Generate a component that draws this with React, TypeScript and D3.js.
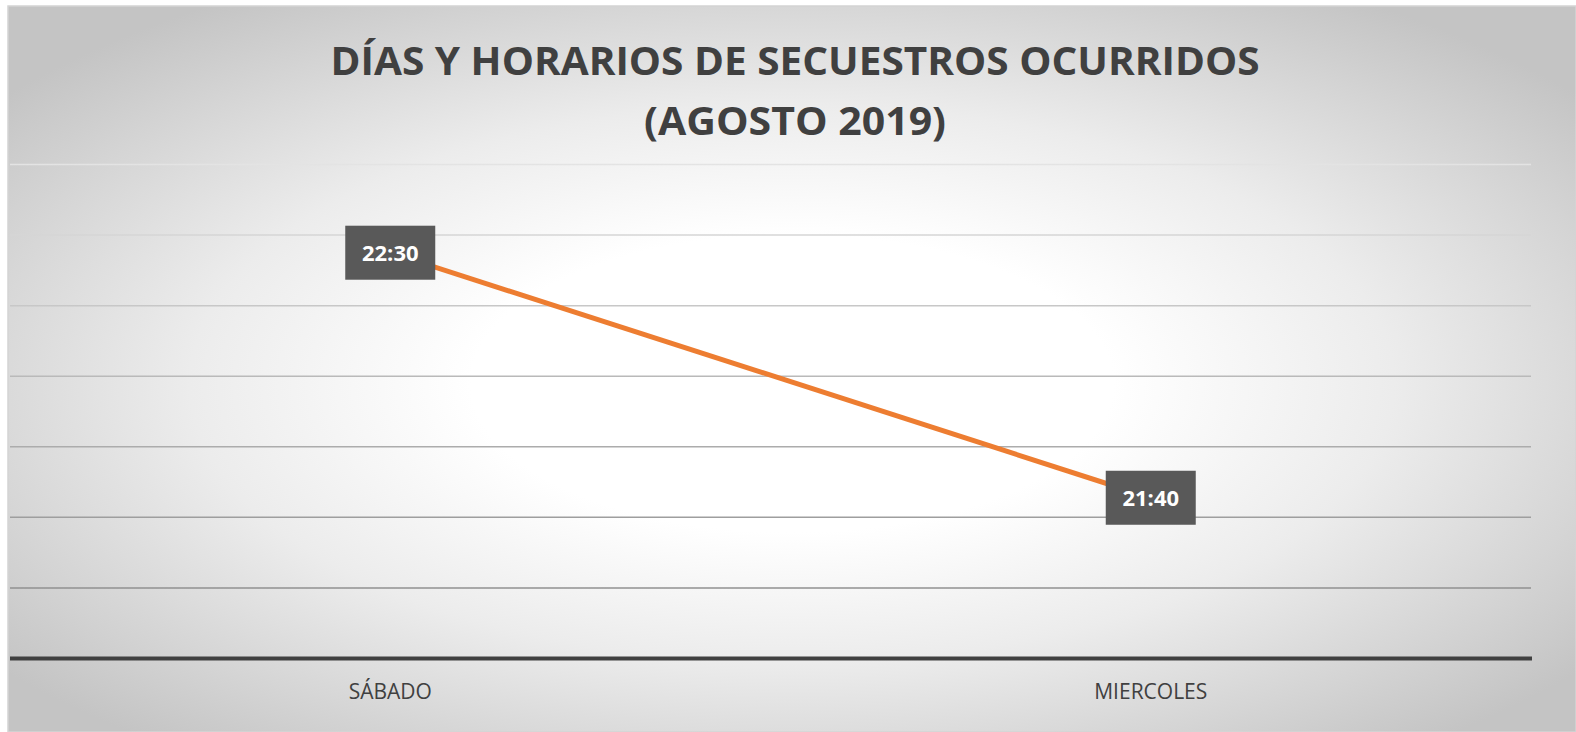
import React from "react";
import * as d3 from "d3";

const categories = ["SÁBADO", "MIERCOLES"];
const timeLabels = ["22:30", "21:40"];
// time as fraction of a day
const values = [22.5 / 24, (21 + 40 / 60) / 24];
const yTicks = [0.88, 0.89, 0.9, 0.91, 0.92, 0.93, 0.94, 0.95];
const titleLines = ["DÍAS Y HORARIOS DE SECUESTROS OCURRIDOS", "(AGOSTO 2019)"];

const W = 1576;
const H = 732;

export default function App() {
  const x = d3.scaleBand<string>().domain(categories).range([10, 1531]);
  const y = d3.scaleLinear().domain([0.88, 0.95]).range([658.5, 164.5]);
  const pts = categories.map((c, i) => [x(c)! + x.bandwidth() / 2, y(values[i])] as [number, number]);
  const line = d3.line();
  const font = "'Open Sans', sans-serif";
  return (
    <svg
      width={W}
      height={H}
      style={{ position: "absolute", left: 0, top: 0, display: "block" }}
    >
      <defs>
        <radialGradient id="bg" cx="0.5" cy="0.52" r="0.64" gradientUnits="objectBoundingBox">
          <stop offset="0" stopColor="#ffffff" />
          <stop offset="0.32" stopColor="#ffffff" />
          <stop offset="0.6" stopColor="#ececec" />
          <stop offset="1" stopColor="#c4c4c4" />
        </radialGradient>
        <linearGradient id="grid" gradientUnits="userSpaceOnUse" x1="0" y1="160" x2="0" y2="600">
          <stop offset="0" stopColor="#e4e4e4" />
          <stop offset="1" stopColor="#8e8e8e" />
        </linearGradient>
      </defs>
      <rect x={0} y={0} width={W} height={H} fill="#ffffff" />
      <rect x={8} y={6} width={W - 8} height={H - 6} fill="url(#bg)" stroke="#d4d4d4" strokeWidth={1.5} />
      {titleLines.map((t, i) => (
        <text
          key={i}
          x={795}
          y={75 + i * 60}
          textAnchor="middle"
          fontFamily={font}
          fontWeight={700}
          fontSize={40}
          fill="#404040"
          textLength={i === 0 ? 929 : 302}
          lengthAdjust="spacingAndGlyphs"
        >
          {t}
        </text>
      ))}
      {yTicks.slice(1).map((t) => (
        <line key={t} x1={10} x2={1531} y1={y(t)} y2={y(t)} stroke="url(#grid)" strokeWidth={1.5} />
      ))}
      <line x1={10} x2={1532} y1={y(0.88)} y2={y(0.88)} stroke="#404040" strokeWidth={4} />
      <path d={line(pts)!} fill="none" stroke="#ed7d31" strokeWidth={5} />
      {pts.map((p, i) => (
        <g key={i}>
          <rect x={p[0] - 45} y={p[1] - 27} width={90} height={54} fill="#595959" />
          <text
            x={p[0]}
            y={p[1] + 8}
            textAnchor="middle"
            fontFamily={font}
            fontWeight={700}
            fontSize={22}
            fill="#ffffff"
          >
            {timeLabels[i]}
          </text>
        </g>
      ))}
      {categories.map((c) => (
        <text
          key={c}
          x={x(c)! + x.bandwidth() / 2}
          y={699}
          textAnchor="middle"
          fontFamily={font}
          fontSize={21}
          fill="#404040"
        >
          {c}
        </text>
      ))}
    </svg>
  );
}
